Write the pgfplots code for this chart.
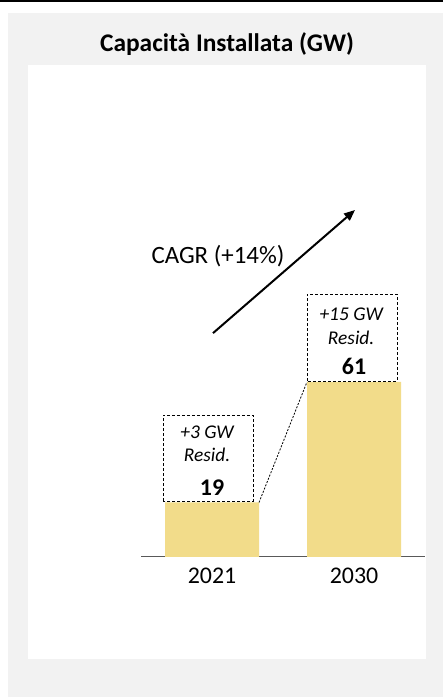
\documentclass[border=0pt]{standalone}
\usepackage{fontspec}
\setmainfont{Carlito}
\usepackage{pgfplots}
\pgfplotsset{compat=1.18}
\usetikzlibrary{arrows.meta}
\definecolor{barfill}{RGB}{242,220,138}
\definecolor{panel}{RGB}{242,242,242}
\definecolor{axisgray}{RGB}{89,89,89}
\begin{document}
\begin{tikzpicture}[x=1bp,y=1bp]
\path[use as bounding box] (0,0) rectangle (443,697);
% frame
\fill[panel] (8,0) rectangle (443,684);
\fill[white] (28,38) rectangle (426,632);
\draw[line width=2bp] (0,696) -- (443,696);
\node[font=\fontsize{25.5}{30}\selectfont\bfseries] at (227,653) {Capacità Installata (GW)};
\begin{axis}[
    at={(141bp,140bp)}, anchor=south west,
    x=142bp, y=2.87bp,
    xmin=-0.5, xmax=1.5, ymin=0, ymax=125,
    axis x line*=bottom, axis y line=none,
    x axis line style={draw=axisgray, line width=1bp, -},
    xtick={0,1}, xticklabels={2021,2030},
    major tick length=0pt,
    xticklabel style={font=\fontsize{24}{28}\selectfont, yshift=-7bp},
    clip=false,
    /pgf/number format/assume math mode=true,
    ybar, bar width=94bp,
    nodes near coords,
    every node near coord/.append style={font=\fontsize{24}{28}\selectfont\bfseries, anchor=base, yshift=7bp},
]
\addplot[fill=barfill, draw=none] coordinates {(0,19) (1,61)};
% dashed boxes
\draw[line width=0.8bp, dash pattern=on 3bp off 2bp] (axis cs:-0.345,19.5) rectangle (axis cs:0.289,49.5);
\draw[line width=0.8bp, dash pattern=on 3bp off 2bp] (axis cs:0.669,61.3) rectangle (axis cs:1.303,91.6);
\draw[line width=0.8bp, dash pattern=on 2bp off 1.5bp] (axis cs:0.331,19) -- (axis cs:0.669,61);
\node[font=\fontsize{19.5}{22}\selectfont\itshape] at (axis cs:-0.035,43.6) {+3 GW};
\node[font=\fontsize{19.5}{22}\selectfont\itshape] at (axis cs:-0.035,35.5) {Resid.};
\node[font=\fontsize{19.5}{22}\selectfont\itshape] at (axis cs:0.98,84.5) {+15 GW};
\node[font=\fontsize{19.5}{22}\selectfont\itshape] at (axis cs:0.98,76.5) {Resid.};
% CAGR arrow
\draw[line width=2bp, -{Triangle[length=11bp, width=9bp]}] (axis cs:0.007,78) -- (axis cs:1.007,120.9);
\node[font=\fontsize{25}{29}\selectfont] at (axis cs:0.042,104.9) {CAGR (+14\%)};
\end{axis}
\end{tikzpicture}
\end{document}
